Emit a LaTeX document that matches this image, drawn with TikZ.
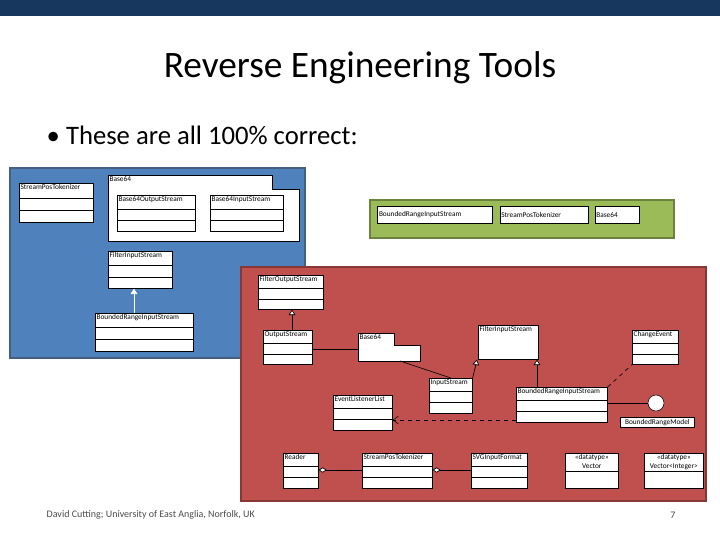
\documentclass[tikz,border=0pt]{standalone}
\usepackage{fontspec}
\setmainfont{Carlito}
\usetikzlibrary{calc,arrows.meta}
\definecolor{barblue}{RGB}{23,55,94}
\definecolor{panelblue}{RGB}{79,129,189}
\definecolor{panelred}{RGB}{192,80,77}
\definecolor{panelgreen}{RGB}{155,187,89}
\tikzset{
  cls/.style={draw=black, fill=white, line width=0.5pt, rectangle, inner sep=0pt},
  clsname/.style={font=\fontsize{5.5}{6.5}\selectfont, inner sep=1pt},
  panel/.style={line width=1.5pt},
  gen/.style={-{Triangle[open,fill=white,length=4pt,width=5pt]}, line width=0.5pt},
  assoc/.style={line width=0.5pt},
  dep/.style={dashed, -{Straight Barb[length=4pt,width=6pt]}, line width=0.4pt}
}
% class box: name, left, top, width, height, label
\newcommand{\umlbox}[6]{%
  \node[cls, anchor=north west, minimum width=#4*0.75pt, minimum height=#5*0.75pt] (#1) at (#2,#3) {};
  \node[clsname, anchor=north west] (#1-t) at (#1.north west) {#6};
  \draw[line width=0.4pt] ($(#1.north west)!0.38!(#1.south west)$) -- ($(#1.north east)!0.38!(#1.south east)$);
  \draw[line width=0.4pt] ($(#1.north west)!0.69!(#1.south west)$) -- ($(#1.north east)!0.69!(#1.south east)$);
}
\begin{document}
\begin{tikzpicture}[x=0.75pt, y=-0.75pt]
\useasboundingbox[fill=white] (0,0) rectangle (720,540);
\fill[barblue] (0,0) rectangle (720,16);
\node[font=\fontsize{28}{32}\selectfont] (title) at (360,68) {Reverse Engineering Tools};
\node[font=\fontsize{20}{24}\selectfont, anchor=west] (bullet) at (42,135) {\textbullet\ These are all 100\% correct:};

% blue panel
\draw[panel, draw=barblue!80, fill=panelblue] (10,168) rectangle (305,358);
\umlbox{sptA}{19}{183}{74}{39}{StreamPosTokenizer}
\draw[fill=white, line width=0.5pt] (108,175) -- (272,175) -- (272,189) -- (299,189) -- (299,241) -- (108,241) -- cycle;
\node[clsname, anchor=north west] (baseA) at (108,175) {Base64};
\umlbox{bosA}{117}{195}{78}{36}{Base64OutputStream}
\umlbox{bisA}{210}{195}{73}{36}{Base64InputStream}
\umlbox{fisA}{108}{251}{64}{37}{FilterInputStream}
\umlbox{brisA}{95}{313}{98}{38}{BoundedRangeInputStream}
\draw[gen, draw=white] (brisA.north -| 134,0) -- (fisA.south -| 134,0);

% green panel
\draw[panel, draw=panelgreen!70!black, fill=panelgreen] (370,200) rectangle (674,238);
\node[cls, clsname, minimum height=13pt, text width=84pt, align=left] (brisB) at (435,215) {BoundedRangeInputStream};
\node[cls, clsname, minimum height=13pt, text width=64pt, align=left] (sptB) at (544,215) {StreamPosTokenizer};
\node[cls, clsname, minimum height=13pt, text width=31pt, align=left] (baseB) at (617,215) {Base64};

% red panel
\draw[panel, draw=panelred!70!black, fill=panelred] (241,267) rectangle (706,501);
\umlbox{fos}{258}{275}{65}{34}{FilterOutputStream}
\umlbox{os}{263}{330}{49}{34}{OutputStream}
\draw[fill=white, line width=0.5pt] (358,333) -- (394,333) -- (394,345) -- (420,345) -- (420,361) -- (358,361) -- cycle;
\node[clsname, anchor=north west] (baseC) at (358,333) {Base64};
\coordinate (baseCw) at (358,349);
\coordinate (baseCs) at (400,361);
\node[cls, anchor=north west, minimum width=60*0.75pt, minimum height=34*0.75pt] (fis) at (478,325) {};
\node[clsname, anchor=north west] (fis-t) at (fis.north west) {FilterInputStream};
\umlbox{ce}{632}{330}{46}{34}{ChangeEvent}
\umlbox{is}{429}{378}{43}{35}{InputStream}
\umlbox{bris}{516}{387}{91}{35}{BoundedRangeInputStream}
\umlbox{ell}{333}{395}{59}{35}{EventListenerList}
\node[circle, draw, fill=white, minimum size=16*0.75pt, inner sep=0pt] (brm) at (656,403) {};
\node[cls, clsname, anchor=north west, minimum width=74*0.75pt, minimum height=10*0.75pt] (brmlbl) at (620,417) {BoundedRangeModel};
\umlbox{rd}{283}{453}{35}{35}{Reader}
\umlbox{spt}{362}{453}{70}{35}{StreamPosTokenizer}
\umlbox{svg}{471}{453}{56}{35}{SVGInputFormat}
\node[cls, anchor=north west, minimum width=53*0.75pt, minimum height=35*0.75pt] (vec) at (565,453) {};
\node[clsname, align=center, anchor=north] (vec-t) at (vec.north) {<<datatype>>\\Vector};
\draw[line width=0.4pt] ($(vec.north west)!0.5!(vec.south west)$) -- ($(vec.north east)!0.5!(vec.south east)$);
\node[cls, anchor=north west, minimum width=59*0.75pt, minimum height=35*0.75pt] (veci) at (644,453) {};
\node[clsname, align=center, anchor=north] (veci-t) at (veci.north) {<<datatype>>\\Vector<Integer>};
\draw[line width=0.4pt] ($(veci.north west)!0.5!(veci.south west)$) -- ($(veci.north east)!0.5!(veci.south east)$);

\draw[gen] (os.north -| 292,0) -- (fos.south -| 292,0);
\draw[assoc] (os.east |- 0,349) -- (baseCw);
\draw[assoc] (baseCs) -- (is.north);
\draw[gen] (is.north east) -- (fis.south west -| 477,0);
\draw[gen] (bris.north -| 537,0) -- (fis.south -| 537,0);
\draw[assoc, dashed] (bris.north east) -- (ce.south west);
\draw[assoc] (bris.east |- brm.west) -- (brm.west);
\draw[dep] (bris.west |- 0,420) -- (ell.east |- 0,420);
\draw[assoc, {Diamond[open,fill=white,length=6pt,width=4pt]}-] (rd.east |- 0,470) -- (spt.west |- 0,470);
\draw[assoc, {Diamond[open,fill=white,length=6pt,width=4pt]}-] (spt.east |- 0,470) -- (svg.west |- 0,470);

\node[font=\fontsize{7.5}{9}\selectfont, anchor=west, text=black!70] (foot) at (42,515) {David Cutting; University of East Anglia, Norfolk, UK};
\node[font=\fontsize{7.5}{9}\selectfont, text=black!70] (page) at (673,515) {7};
\end{tikzpicture}
\end{document}
